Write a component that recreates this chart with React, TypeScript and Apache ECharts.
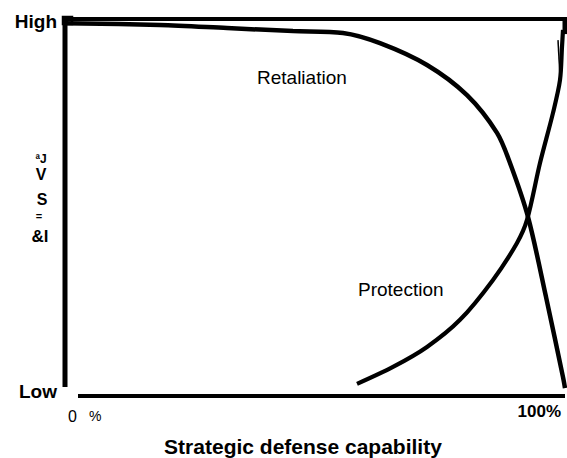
import React, { useEffect, useRef } from "react";
import * as echarts from "echarts";

// Data (x: % strategic defense capability, y: 0 = Low, 100 = High)
const retaliationX = [0, 19, 32.4, 45.6, 55.6, 63, 72.4, 80.4, 86.4, 89, 92.6, 96.2, 99.6, 100];
const retaliationY = [98.9, 98.4, 97.6, 96.8, 96.3, 93.6, 87.8, 79.8, 69.8, 61.8, 47.5, 26.3, 5.0, 2.1];
const protectionX = [58.4, 65.6, 72.4, 79, 85.6, 90.4, 92.4, 95, 97.6, 99, 99.4, 99.6];
const protectionY = [3.2, 7.7, 13.0, 20.2, 30.8, 40.6, 46.7, 61.8, 75.1, 83.8, 92.6, 97.1];
const spikeX = [98.6, 99];
const spikeY = [94.4, 84.6];

const seriesNames = ["Retaliation", "Protection"];
const yTickLabels = ["High", "Low"];
const xTickLabels = ["0", "%", "100%"];
const xTitle = "Strategic defense capability";
const yTitleGlyphs = ["ªJ", "V", "S", "=", "&l"];

const zip = (xs: number[], ys: number[]) => xs.map((x, i) => [x, ys[i]]);

const FONT = "'Liberation Sans', Arial, sans-serif";

export default function App() {
  const ref = useRef<HTMLDivElement>(null);
  useEffect(() => {
    if (!ref.current) return;
    const chart = echarts.init(ref.current, null, { renderer: "svg" });
    const lineBase = {
      type: "line" as const,
      showSymbol: false,
      symbol: "none",
      clip: false,
      silent: true,
    };
    const txt = (
      text: string,
      x: number,
      y: number,
      size: number,
      bold: boolean,
      align: string = "left"
    ) => ({
      type: "text",
      x,
      y,
      silent: true,
      style: {
        text,
        fontSize: size,
        fontWeight: bold ? "bold" : "normal",
        fontFamily: FONT,
        fill: "#000",
        align,
        verticalAlign: "middle",
      },
    });
    chart.setOption({
      animation: false,
      backgroundColor: "#fff",
      grid: { left: 65, right: 2, top: 19, bottom: 62 },
      xAxis: { type: "value", min: 0, max: 100, show: false },
      yAxis: { type: "value", min: 0, max: 100, show: false },
      series: [
        {
          ...lineBase,
          name: "frame-top",
          data: [[-0.6, 100], [100.4, 100]],
          lineStyle: { color: "#000", width: 4 },
        },
        {
          ...lineBase,
          name: "frame-left",
          data: [[0, 100], [0, 2.4]],
          lineStyle: { color: "#000", width: 5 },
        },
        {
          ...lineBase,
          name: "frame-bottom",
          data: [[2.6, 0], [100, 0]],
          lineStyle: { color: "#000", width: 4 },
        },
        {
          ...lineBase,
          name: "frame-right",
          data: [[100, 100], [100, 96]],
          lineStyle: { color: "#000", width: 5 },
        },
        {
          ...lineBase,
          name: seriesNames[0],
          smooth: 0.3,
          data: zip(retaliationX, retaliationY),
          lineStyle: { color: "#000", width: 4.5 },
        },
        {
          ...lineBase,
          name: seriesNames[1],
          smooth: 0.3,
          data: zip(protectionX, protectionY),
          lineStyle: { color: "#000", width: 4.2 },
        },
        {
          ...lineBase,
          name: "spike",
          data: zip(spikeX, spikeY),
          lineStyle: { color: "#000", width: 1.5 },
        },
      ],
      graphic: [
        {
          type: "rect",
          shape: { x: 63, y: 17, width: 9, height: 7 },
          style: { fill: "none", stroke: "#000", lineWidth: 2.5 },
          silent: true,
        },
        txt(yTickLabels[0], 57, 21, 19, true, "right"),
        txt(yTickLabels[1], 57, 391, 19, true, "right"),
        txt(xTickLabels[0], 68, 416, 16, false),
        txt(xTickLabels[1], 89, 416, 14, false),
        txt(xTickLabels[2], 561, 411, 17, true, "right"),
        txt(xTitle, 303, 446, 21, true, "center"),
        txt(seriesNames[0], 257, 77, 19, false),
        txt(seriesNames[1], 358, 289, 19, false),
        txt(yTitleGlyphs[0], 41, 159, 12, true, "center"),
        txt(yTitleGlyphs[1], 41, 174, 16, true, "center"),
        txt(yTitleGlyphs[2], 42, 199, 16, true, "center"),
        txt(yTitleGlyphs[3], 39, 216, 11, true, "center"),
        txt(yTitleGlyphs[4], 40, 236, 17, true, "center"),
      ],
    });
    return () => chart.dispose();
  }, []);
  return (
    <div
      ref={ref}
      style={{ position: "fixed", left: 0, top: 0, width: 567, height: 458, background: "#fff" }}
    />
  );
}
